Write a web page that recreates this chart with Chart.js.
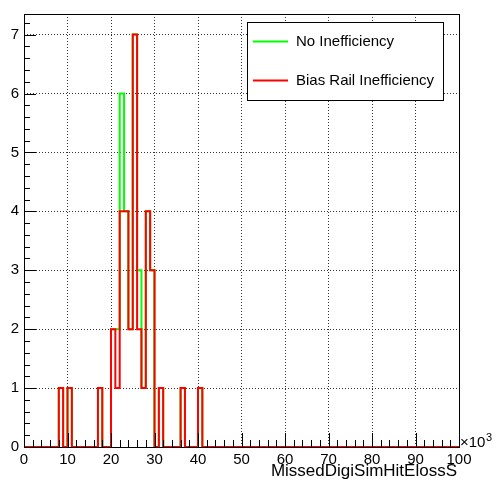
<!DOCTYPE html>
<html>
<head>
<meta charset="utf-8">
<script src="https://cdn.jsdelivr.net/npm/chart.js@4/dist/chart.umd.min.js"></script>
<style>
  body { margin: 0; background: #fff; }
  canvas { display: block; }
</style>
</head>
<body>
<canvas id="hist" width="496" height="487"></canvas>
<script>
// histogram: 100 bins, x in units of 10^3
const nBins = 100;
const xTicks = [0, 10, 20, 30, 40, 50, 60, 70, 80, 90, 100];
const yTicks = [0, 1, 2, 3, 4, 5, 6, 7];

// filled bins (bin index = lower edge) for each series
const noIneffBins = [8, 10, 17, 20, 21, 22, 23, 24, 25, 26, 27, 28, 29, 31, 36, 40];
const noIneffCounts = [1, 1, 1, 2, 2, 6, 4, 2, 7, 3, 1, 4, 3, 1, 1, 1];
const biasRailBins = [8, 10, 17, 20, 21, 22, 23, 24, 25, 26, 27, 28, 29, 31, 36, 40];
const biasRailCounts = [1, 1, 1, 2, 1, 4, 4, 2, 7, 2, 1, 4, 3, 1, 1, 1];

const seriesLabels = ['No Inefficiency', 'Bias Rail Inefficiency'];

function toSteps(bins, counts) {
  const full = new Array(nBins).fill(0);
  bins.forEach((b, i) => { full[b] = counts[i]; });
  const pts = full.map((v, i) => ({ x: i, y: v }));
  pts.push({ x: nBins, y: full[nBins - 1] });
  return pts;
}

const FONT = "'Liberation Sans', Arial, Helvetica, sans-serif";

// frame, minor ticks, legend, axis title
const rootStyle = {
  id: 'rootStyle',
  afterDraw(chart) {
    const ctx = chart.ctx;
    const a = chart.chartArea;
    const xs = chart.scales.x;
    const ys = chart.scales.y;
    ctx.save();
    ctx.strokeStyle = '#000';
    ctx.lineWidth = 1;
    ctx.setLineDash([]);
    ctx.strokeRect(Math.round(a.left) + 0.5, Math.round(a.top) + 0.5,
      Math.round(a.right - a.left), Math.round(a.bottom - a.top));

    // x ticks
    ctx.beginPath();
    for (let v = 0; v <= 100; v += 2) {
      const px = Math.round(xs.getPixelForValue(v)) + 0.5;
      const len = v % 10 === 0 ? 14 : 7;
      ctx.moveTo(px, a.bottom);
      ctx.lineTo(px, a.bottom - len);
    }
    // y ticks
    for (let k = 0; k <= 36; k++) {
      const v = k * 0.2;
      if (v > ys.max) break;
      const py = Math.round(ys.getPixelForValue(v)) + 0.5;
      const len = k % 5 === 0 ? 12 : 6;
      ctx.moveTo(a.left, py);
      ctx.lineTo(a.left + len, py);
    }
    ctx.stroke();

    // x10^3
    ctx.fillStyle = '#000';
    ctx.textAlign = 'left';
    ctx.textBaseline = 'alphabetic';
    ctx.font = '15px ' + FONT;
    ctx.fillText('\u00d710', 460, 447);
    ctx.font = '11px ' + FONT;
    ctx.fillText('3', 486, 441);

    // axis title
    ctx.font = '17px ' + FONT;
    ctx.textAlign = 'right';
    ctx.fillText('MissedDigiSimHitElossS', 457, 476);

    // legend
    ctx.fillStyle = '#fff';
    ctx.fillRect(247.5, 22.5, 196, 78);
    ctx.strokeStyle = '#000';
    ctx.strokeRect(247.5, 22.5, 196, 78);
    const colors = [chart.data.datasets[1].borderColor, chart.data.datasets[0].borderColor];
    const rowsY = [41.5, 80.5];
    ctx.font = '15px ' + FONT;
    ctx.textAlign = 'left';
    ctx.textBaseline = 'middle';
    seriesLabels.forEach((lab, i) => {
      ctx.strokeStyle = colors[i];
      ctx.lineWidth = 2;
      ctx.beginPath();
      ctx.moveTo(253, rowsY[i]);
      ctx.lineTo(288, rowsY[i]);
      ctx.stroke();
      ctx.fillStyle = '#000';
      ctx.fillText(lab, 296, rowsY[i]);
    });
    ctx.restore();
  }
};

new Chart(document.getElementById('hist'), {
  type: 'line',
  data: {
    datasets: [
      {
        label: seriesLabels[1],
        data: toSteps(biasRailBins, biasRailCounts),
        borderColor: '#ff0000',
        borderWidth: 2,
        stepped: 'before',
        pointRadius: 0,
        fill: false
      },
      {
        label: seriesLabels[0],
        data: toSteps(noIneffBins, noIneffCounts),
        borderColor: '#00ff00',
        borderWidth: 2,
        stepped: 'before',
        pointRadius: 0,
        fill: false
      }
    ]
  },
  options: {
    responsive: false,
    animation: false,
    devicePixelRatio: 1,
    layout: { padding: { left: 0, right: 37, top: 9, bottom: 0 } },
    plugins: {
      legend: { display: false },
      tooltip: { enabled: false }
    },
    scales: {
      x: {
        type: 'linear',
        min: xTicks[0],
        max: xTicks[xTicks.length - 1],
        afterFit: s => { s.height = 40; },
        afterBuildTicks: s => { s.ticks = xTicks.map(v => ({ value: v })); },
        ticks: { padding: 4, color: '#000', font: { family: FONT, size: 15 }, maxRotation: 0, autoSkip: false },
        grid: { color: '#333', drawTicks: false, lineWidth: 1 },
        border: { display: false, dash: [1, 2] }
      },
      y: {
        min: 0,
        max: 7.35,
        afterFit: s => { s.width = 24; },
        afterBuildTicks: s => { s.ticks = yTicks.map(v => ({ value: v })); },
        ticks: { padding: 5, color: '#000', font: { family: FONT, size: 15 } },
        grid: { color: '#333', drawTicks: false, lineWidth: 1 },
        border: { display: false, dash: [1, 2] }
      }
    }
  },
  plugins: [rootStyle]
});
</script>
</body>
</html>
